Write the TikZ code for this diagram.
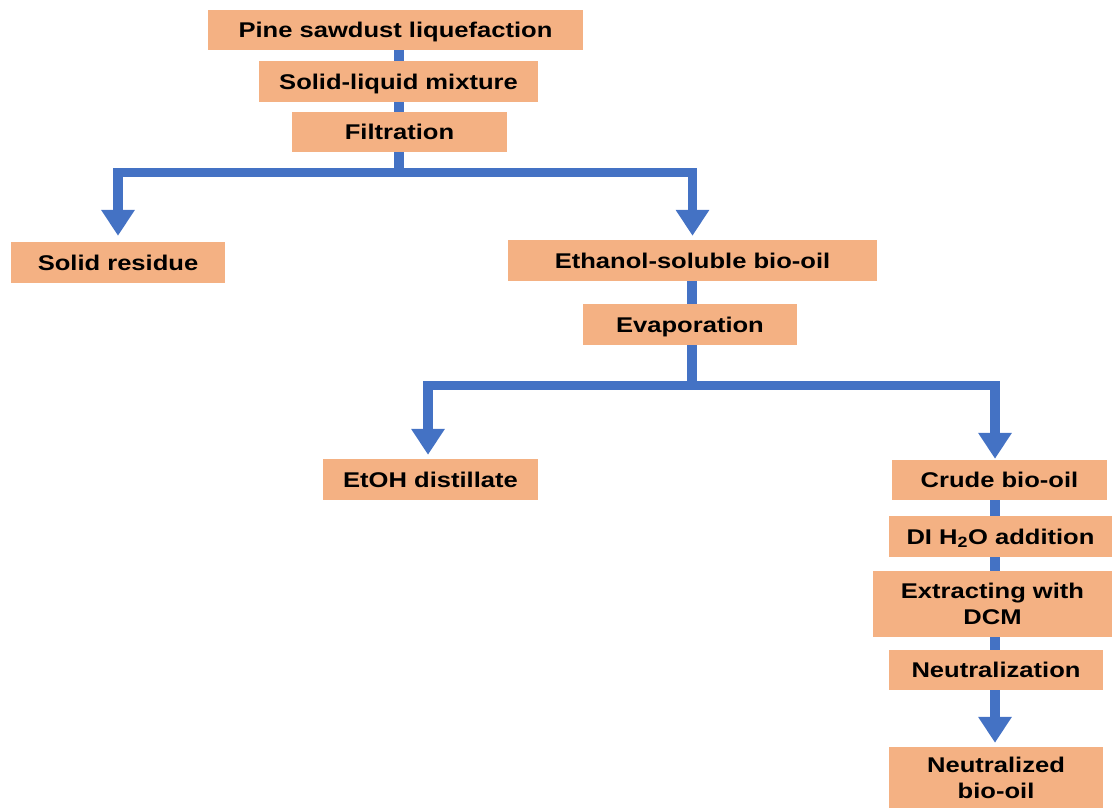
\documentclass[tikz,border=0pt]{standalone}
\usepackage{fontspec}
\setmainfont{Liberation Sans}[FakeStretch=1.2]
\usetikzlibrary{arrows.meta,backgrounds}
\definecolor{boxfill}{HTML}{F4B183}
\definecolor{flowblue}{HTML}{4472C4}
\begin{document}
\begin{tikzpicture}[x=1pt,y=-1pt,
  box/.style={fill=boxfill,draw=none,inner sep=0pt,align=center,
    font=\fontsize{21.3}{26}\selectfont\bfseries},
  onebox/.style={box,text height=15.3pt,text depth=0pt},
  flowline/.style={draw=flowblue,line width=9.5pt},
  flowarrow/.style={flowline,-{Triangle[width=32pt,length=26pt]}}]
\useasboundingbox (0,0) rectangle (1112,809);
\node[onebox,minimum width=375pt,minimum height=40pt] (n1) at (395.5,30) {Pine sawdust liquefaction};
\node[onebox,minimum width=279pt,minimum height=41pt] (n2) at (398.5,81.5) {Solid-liquid mixture};
\node[onebox,minimum width=215pt,minimum height=40pt] (n3) at (399.5,132) {Filtration};
\node[onebox,minimum width=214pt,minimum height=41pt] (solid) at (118,262.5) {Solid residue};
\node[onebox,minimum width=369pt,minimum height=41pt] (eth) at (692.5,260.5) {Ethanol-soluble bio-oil};
\node[onebox,minimum width=214pt,minimum height=41pt] (evap) at (690,324.5) {Evaporation};
\node[onebox,minimum width=215pt,minimum height=41pt] (etoh) at (430.5,479.5) {EtOH distillate};
\node[onebox,minimum width=215pt,minimum height=40pt] (crude) at (999.5,480) {Crude bio-oil};
\node[onebox,minimum width=223pt,minimum height=41pt] (di) at (1000.5,536.5) {DI H\textsubscript{2}O addition};
\node[box,minimum width=239pt,minimum height=66pt] (ext) at (992.5,604) {Extracting with\\DCM};
\node[box,minimum width=214pt,minimum height=61pt] (neutd) at (996,777.5) {Neutralized\\bio-oil};
\node[onebox,minimum width=214pt,minimum height=40pt] (neutz) at (996,670) {Neutralization};
\coordinate (j1) at (399,172.5);
\coordinate (j2) at (692,385.5);
\coordinate (c3) at (995,0);
\coordinate (c2) at (428,0);
\begin{pgfonlayer}{background}
\draw[flowline] (n1.center -| j1) -- (j1);
\draw[flowline] (eth.center -| j2) -- (j2);
\draw[flowline] (crude.center -| c3) -- (neutz.center -| c3);
\end{pgfonlayer}
\draw[flowarrow] (j1) -| ([yshift=6pt]solid.north);
\draw[flowarrow] (j1) -| ([yshift=4pt]eth.north);
\draw[flowarrow] (j2) -| ([yshift=4pt]etoh.north -| c2);
\draw[flowarrow] (j2) -| ([yshift=1pt]crude.north -| c3);
\draw[flowarrow] (neutz.south -| c3) -- ([yshift=4pt]neutd.north -| c3);
\end{tikzpicture}
\end{document}
